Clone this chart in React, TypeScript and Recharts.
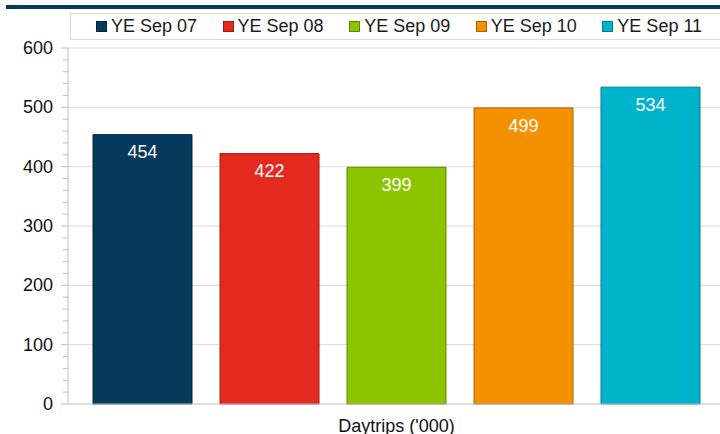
import React from "react";
import { BarChart, Bar, XAxis, YAxis, CartesianGrid, LabelList } from "recharts";

const categories = ["Daytrips ('000)"];
const seriesNames = ["YE Sep 07", "YE Sep 08", "YE Sep 09", "YE Sep 10", "YE Sep 11"];
const seriesValues = [454, 422, 399, 499, 534];
const seriesColors = ["#053a5c", "#e42a1f", "#8bc500", "#f59100", "#00b3cd"];
const seriesStrokes = ["#02263d", "#9e1a12", "#5e8700", "#a86300", "#007b8d"];
const majorTicks = [0, 100, 200, 300, 400, 500, 600];
const allTicks = Array.from({ length: 31 }, (_, i) => i * 20);

const keys = seriesNames.map((_, i) => `s${i}`);
const data = categories.map((c) => {
  const row: Record<string, any> = { name: c };
  keys.forEach((k, i) => (row[k] = seriesValues[i]));
  return row;
});

const FONT = "'Liberation Sans', Arial, sans-serif";

const YTick = (props: any) => {
  const { x, y, payload } = props;
  const v = payload.value;
  const major = v % 100 === 0;
  return (
    <g>
      <line x1={x - (major ? 7 : 5)} x2={x} y1={y} y2={y} stroke="#bfbfbf" strokeWidth={1} />
      {major && (
        <text x={x - 15} y={y} dy={6} textAnchor="end" fontSize={18} fill="#111" fontFamily={FONT}>
          {v}
        </text>
      )}
    </g>
  );
};

const LegendBox = () => (
  <div
    style={{
      position: "absolute",
      top: 13,
      left: 70,
      width: 660,
      height: 27,
      border: "1px solid #d9d9d9",
      display: "flex",
      alignItems: "center",
      fontFamily: FONT,
      fontSize: 18,
      color: "#1a1a1a",
      boxSizing: "border-box",
      zIndex: 2,
      background: "#fff",
    }}
  >
    <div style={{ width: 25 }} />
    {seriesNames.map((n, i) => (
      <div key={n} style={{ width: 127, display: "flex", alignItems: "center" }}>
        <span
          style={{
            display: "inline-block",
            width: 11,
            height: 11,
            background: seriesColors[i],
            border: `1px solid ${seriesStrokes[i]}`,
            boxSizing: "border-box",
            marginRight: 4,
          }}
        />
        <span>{n}</span>
      </div>
    ))}
  </div>
);

export default function App() {
  return (
    <div style={{ position: "absolute", left: 0, top: 0, width: 720, height: 434, background: "#fff", overflow: "hidden" }}>
      <div style={{ position: "absolute", left: 6, top: 5, width: 714, height: 4, background: "#053a5c" }} />
      <div style={{ position: "absolute", left: 0, top: 0 }}>
        <BarChart
          width={725}
          height={440}
          data={data}
          margin={{ top: 48, right: 0, bottom: 0, left: 0 }}
          barSize={99}
          barGap={28}
        >
          <CartesianGrid
            vertical={false}
            horizontalValues={majorTicks.slice(1)}
            stroke="#d9d9d9"
            strokeWidth={1}
          />
          <XAxis
            dataKey="name"
            height={36}
            axisLine={{ stroke: "#bfbfbf" }}
            tickLine={false}
            tick={{ fontSize: 18, fill: "#111", fontFamily: FONT }}
            tickMargin={9}
          />
          <YAxis
            width={68}
            domain={[0, 600]}
            ticks={allTicks}
            interval={0}
            axisLine={{ stroke: "#bfbfbf" }}
            tickLine={false}
            tickSize={0}
            tickMargin={0}
            tick={<YTick />}
          />
          {keys.map((k, i) => (
            <Bar
              key={k}
              dataKey={k}
              name={seriesNames[i]}
              fill={seriesColors[i]}
              stroke={seriesStrokes[i]}
              strokeWidth={1}
              isAnimationActive={false}
            >
              <LabelList
                dataKey={k}
                position="insideTop"
                offset={11}
                fill="#fff"
                fontSize={18}
                fontFamily={FONT}
              />
            </Bar>
          ))}
        </BarChart>
      </div>
      <LegendBox />
    </div>
  );
}
